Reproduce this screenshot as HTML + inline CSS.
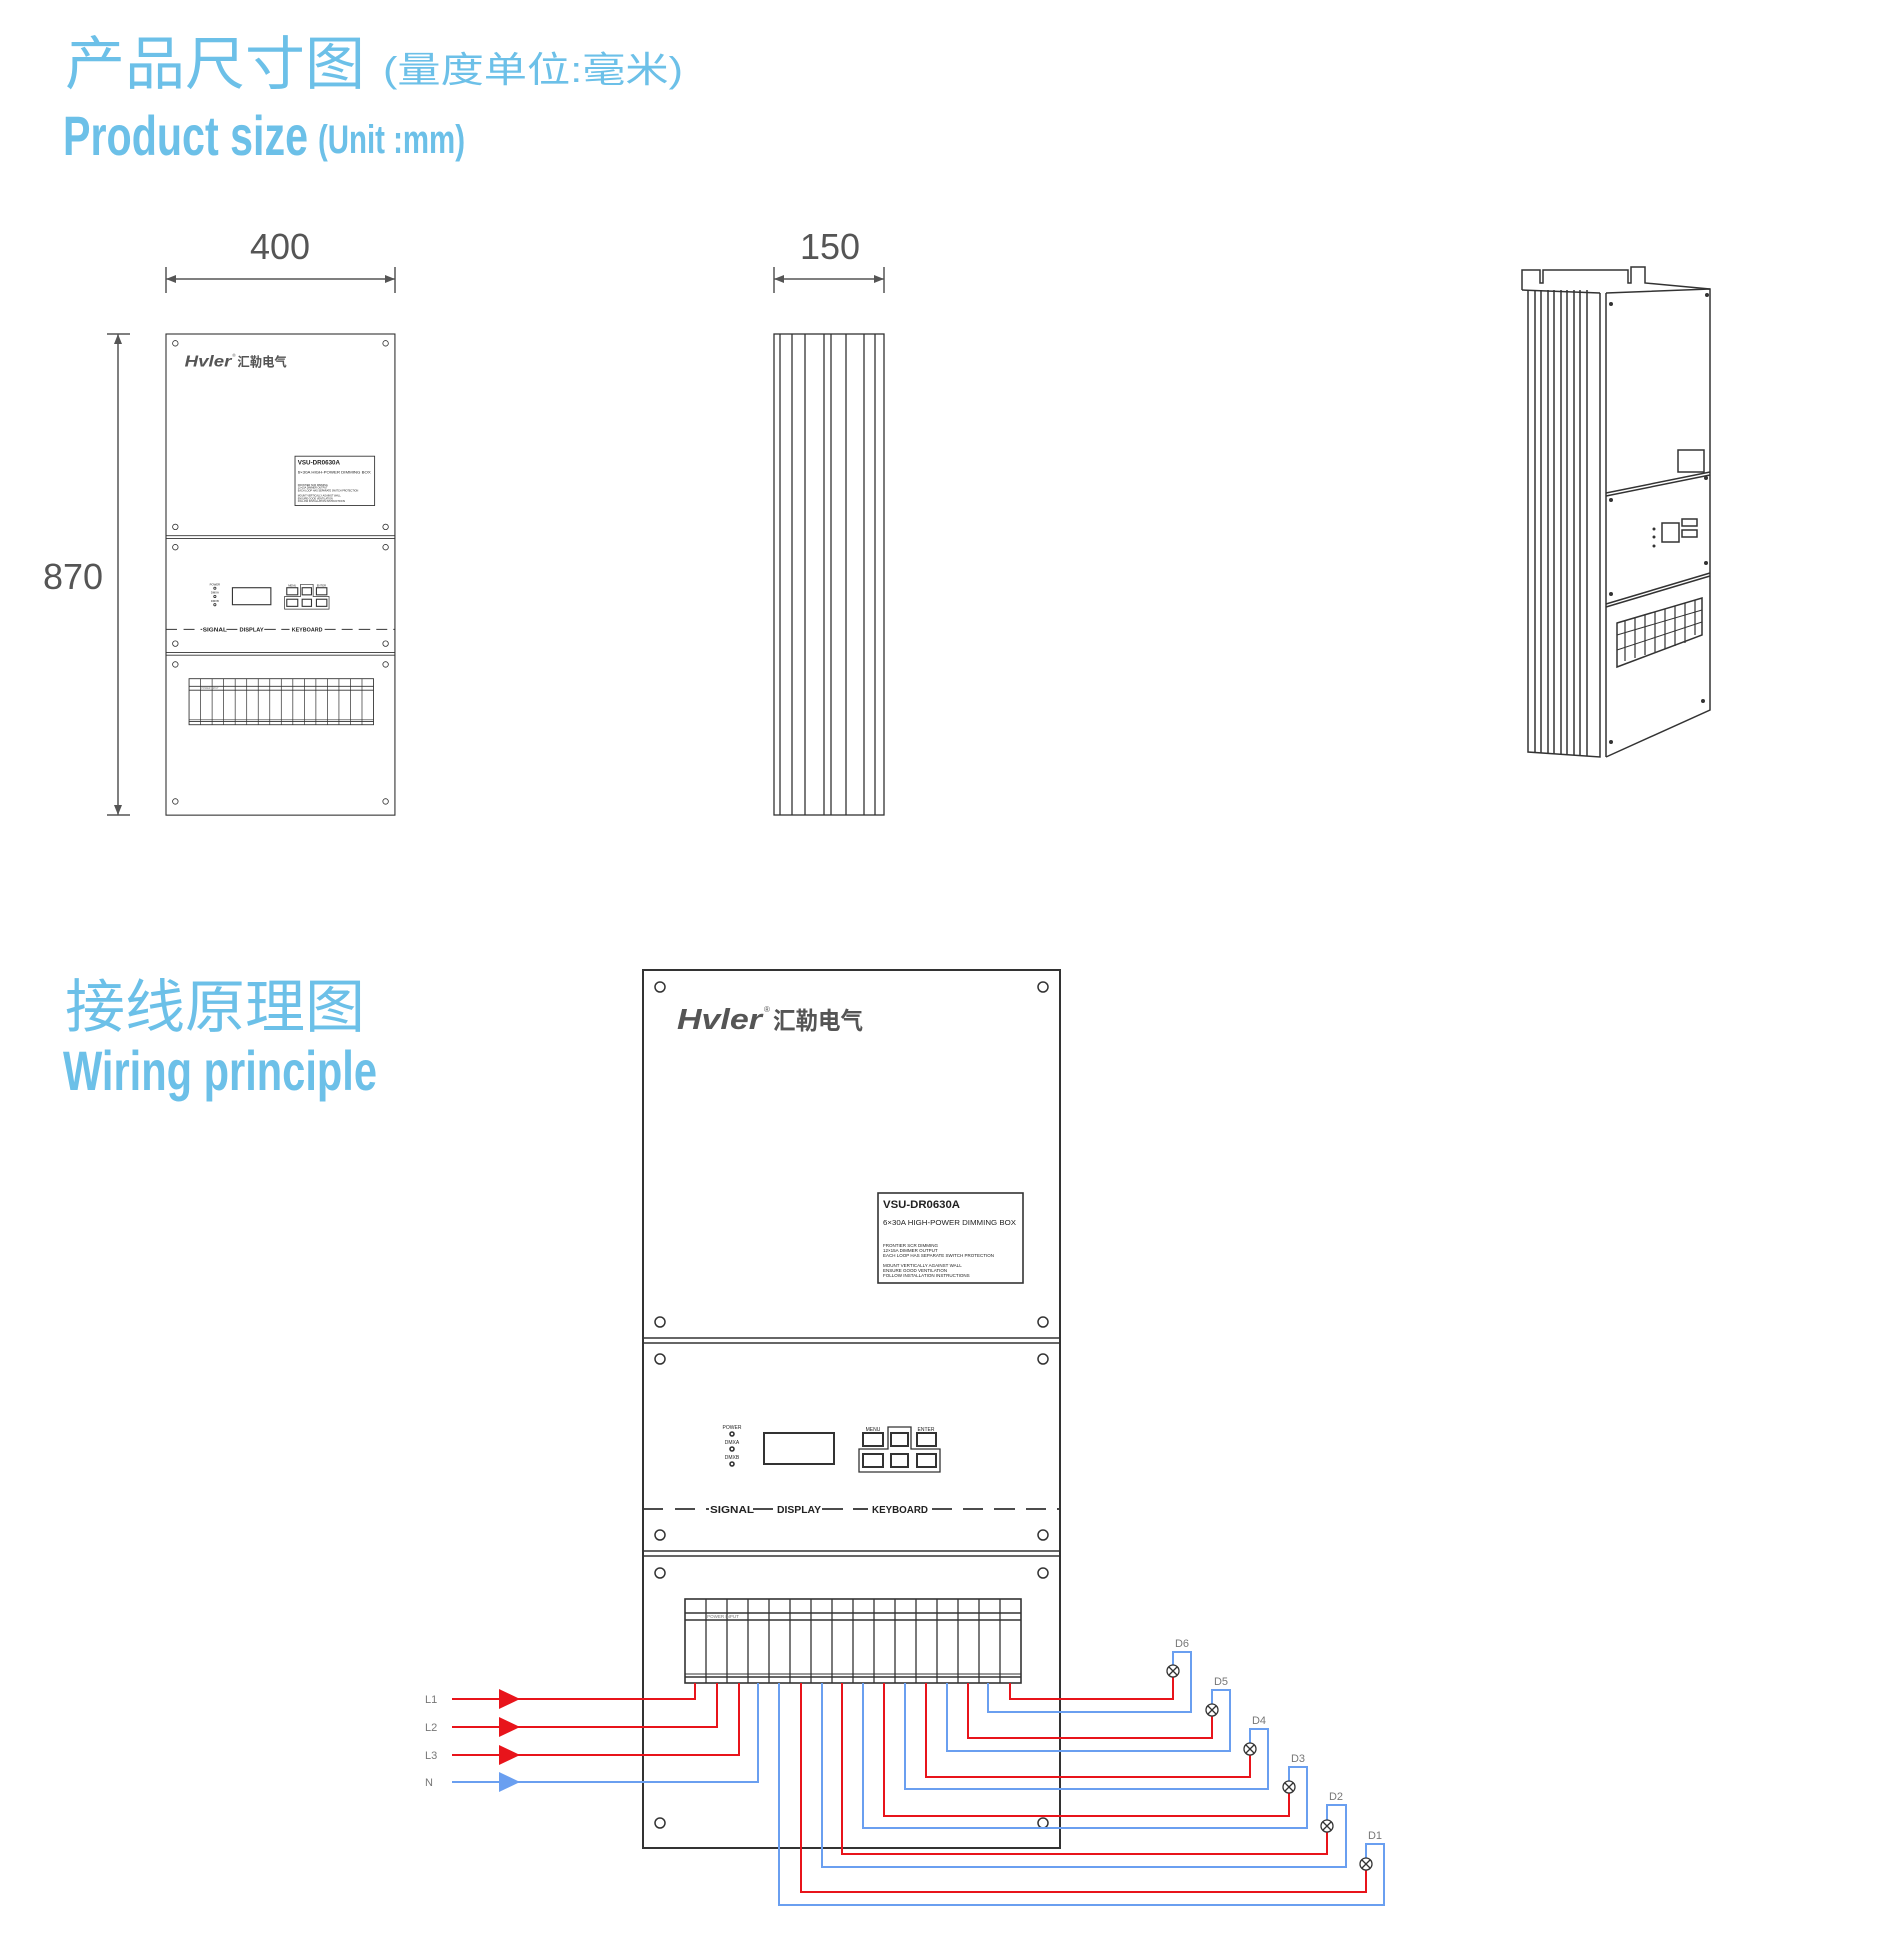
<!DOCTYPE html>
<html><head><meta charset="utf-8"><style>
html,body{margin:0;padding:0;background:#fff}
svg{display:block}
</style></head><body>
<svg width="1885" height="1959" viewBox="0 0 1885 1959" xmlns="http://www.w3.org/2000/svg" font-family="Liberation Sans, sans-serif">
<defs>
<g id="panel" fill="none" stroke="#333" stroke-width="1.6">
  <rect x="643" y="970" width="417" height="878" fill="#fff" stroke-width="2"/>
  <line x1="643" y1="1338" x2="1060" y2="1338"/><line x1="643" y1="1343" x2="1060" y2="1343"/>
  <line x1="643" y1="1551" x2="1060" y2="1551"/><line x1="643" y1="1556" x2="1060" y2="1556"/>
  <g stroke-width="1.5">
  <circle cx="660" cy="987" r="5"/><circle cx="1043" cy="987" r="5"/>
  <circle cx="660" cy="1322" r="5"/><circle cx="1043" cy="1322" r="5"/>
  <circle cx="660" cy="1359" r="5"/><circle cx="1043" cy="1359" r="5"/>
  <circle cx="660" cy="1535" r="5"/><circle cx="1043" cy="1535" r="5"/>
  <circle cx="660" cy="1573" r="5"/><circle cx="1043" cy="1573" r="5"/>
  <circle cx="660" cy="1823" r="5"/><circle cx="1043" cy="1823" r="5"/>
  </g>
  <text x="677" y="1029" font-size="29" font-weight="bold" font-style="italic" fill="#555" stroke="none" textLength="85" lengthAdjust="spacingAndGlyphs">Hvler</text>
  <text x="764" y="1012" font-size="8" fill="#555" stroke="none">®</text>
  <text x="773" y="1029" font-size="24" font-weight="bold" fill="#555" stroke="none" font-family="Liberation Sans, Noto Sans CJK SC, sans-serif" textLength="90" lengthAdjust="spacingAndGlyphs">汇勒电气</text>
  <rect x="878" y="1193" width="145" height="90" stroke-width="1.6"/>
  <g fill="#222" stroke="none">
  <text x="883" y="1208" font-size="11" font-weight="bold" textLength="77" lengthAdjust="spacingAndGlyphs">VSU-DR0630A</text>
  <text x="883" y="1225" font-size="7" textLength="133" lengthAdjust="spacingAndGlyphs">6×30A HIGH-POWER DIMMING BOX</text>
  <text x="883" y="1247" font-size="4.5">FRONTIER SCR DIMMING</text>
  <text x="883" y="1252" font-size="4.5">12×15A DIMMER OUTPUT</text>
  <text x="883" y="1257" font-size="4.5">EACH LOOP HAS SEPARATE SWITCH PROTECTION</text>
  <text x="883" y="1267" font-size="4.5">MOUNT VERTICALLY AGAINST WALL</text>
  <text x="883" y="1272" font-size="4.5">ENSURE GOOD VENTILATION</text>
  <text x="883" y="1277" font-size="4.5">FOLLOW INSTALLATION INSTRUCTIONS</text>
  <text x="732" y="1429" font-size="5" text-anchor="middle">POWER</text>
  <text x="732" y="1444" font-size="5" text-anchor="middle">DMXA</text>
  <text x="732" y="1459" font-size="5" text-anchor="middle">DMXB</text>
  <text x="873" y="1431" font-size="5" text-anchor="middle">MENU</text>
  <text x="926" y="1431" font-size="5" text-anchor="middle">ENTER</text>
  </g>
  <circle cx="732" cy="1434" r="2"/><circle cx="732" cy="1449" r="2"/><circle cx="732" cy="1464" r="2"/>
  <rect x="764" y="1433" width="70" height="31" stroke-width="2"/>
  <path d="M859 1449 V1472 H940 V1449 H911 V1427 H888 V1449 Z" stroke-width="1.3"/>
  <rect x="863" y="1433" width="20" height="13" stroke-width="2"/><rect x="891" y="1433" width="17" height="13" stroke-width="2"/><rect x="917" y="1433" width="19" height="13" stroke-width="2"/>
  <rect x="863" y="1454" width="20" height="13" stroke-width="2"/><rect x="891" y="1454" width="17" height="13" stroke-width="2"/><rect x="917" y="1454" width="19" height="13" stroke-width="2"/>
  <g stroke-width="1.8">
  <line x1="643" y1="1509" x2="663" y2="1509"/><line x1="675" y1="1509" x2="695" y2="1509"/>
  <line x1="706" y1="1509" x2="709" y2="1509"/><line x1="753" y1="1509" x2="773" y2="1509"/>
  <line x1="822" y1="1509" x2="843" y2="1509"/><line x1="853" y1="1509" x2="868" y2="1509"/>
  <line x1="932" y1="1509" x2="952" y2="1509"/><line x1="963" y1="1509" x2="983" y2="1509"/>
  <line x1="994" y1="1509" x2="1015" y2="1509"/><line x1="1026" y1="1509" x2="1046" y2="1509"/>
  <line x1="1057" y1="1509" x2="1060" y2="1509"/>
  </g>
  <g fill="#222" stroke="none" font-size="10.5" font-weight="bold" text-anchor="middle">
  <text x="732" y="1513" textLength="44" lengthAdjust="spacingAndGlyphs">SIGNAL</text>
  <text x="799" y="1513" textLength="44" lengthAdjust="spacingAndGlyphs">DISPLAY</text>
  <text x="900" y="1513" textLength="56" lengthAdjust="spacingAndGlyphs">KEYBOARD</text>
  </g>
  <rect x="685" y="1599" width="336" height="84" stroke-width="1.6"/>
  <line x1="685" y1="1613" x2="1021" y2="1613"/>
  <line x1="685" y1="1620" x2="1021" y2="1620"/>
  <line x1="685" y1="1674" x2="1021" y2="1674" stroke-width="1"/>
  <line x1="685" y1="1677" x2="1021" y2="1677" stroke-width="1.6"/>
  <g stroke-width="1.3">
  <line x1="706" y1="1599" x2="706" y2="1683"/><line x1="727" y1="1599" x2="727" y2="1683"/><line x1="748" y1="1599" x2="748" y2="1683"/><line x1="769" y1="1599" x2="769" y2="1683"/>
  <line x1="790" y1="1599" x2="790" y2="1683"/><line x1="811" y1="1599" x2="811" y2="1683"/><line x1="832" y1="1599" x2="832" y2="1683"/><line x1="853" y1="1599" x2="853" y2="1683"/>
  <line x1="874" y1="1599" x2="874" y2="1683"/><line x1="895" y1="1599" x2="895" y2="1683"/><line x1="916" y1="1599" x2="916" y2="1683"/><line x1="937" y1="1599" x2="937" y2="1683"/>
  <line x1="958" y1="1599" x2="958" y2="1683"/><line x1="979" y1="1599" x2="979" y2="1683"/><line x1="1000" y1="1599" x2="1000" y2="1683"/>
  </g>
  <text x="723" y="1618" font-size="4.5" fill="#777" stroke="none" text-anchor="middle">POWER INPUT</text>
</g>
</defs>

<!-- titles -->
<g fill="#6cc0e8" font-family="Liberation Sans, Noto Sans CJK SC, sans-serif">
<text x="65" y="84" font-size="58" textLength="300" lengthAdjust="spacingAndGlyphs">产品尺寸图</text>
<text x="383" y="82" font-size="36" textLength="300" lengthAdjust="spacingAndGlyphs">(量度单位:毫米)</text>
<text x="63" y="155" font-size="56" font-weight="bold" font-family="Liberation Sans Narrow, Liberation Sans, sans-serif" textLength="245" lengthAdjust="spacingAndGlyphs">Product size</text>
<text x="318" y="153" font-size="40" font-weight="bold" font-family="Liberation Sans Narrow, Liberation Sans, sans-serif" textLength="147" lengthAdjust="spacingAndGlyphs">(Unit :mm)</text>
<text x="65" y="1027" font-size="58" textLength="300" lengthAdjust="spacingAndGlyphs">接线原理图</text>
<text x="63" y="1090" font-size="56" font-weight="bold" font-family="Liberation Sans Narrow, Liberation Sans, sans-serif" textLength="314" lengthAdjust="spacingAndGlyphs">Wiring principle</text>
</g>

<!-- dimensions -->
<g stroke="#555" stroke-width="1.5" fill="#555">
<line x1="166" y1="267" x2="166" y2="293"/><line x1="395" y1="267" x2="395" y2="293"/>
<line x1="166" y1="279" x2="395" y2="279"/>
<path d="M166 279 l10 -4 v8z M395 279 l-10 -4 v8z" stroke="none"/>
<line x1="774" y1="267" x2="774" y2="293"/><line x1="884" y1="267" x2="884" y2="293"/>
<line x1="774" y1="279" x2="884" y2="279"/>
<path d="M774 279 l10 -4 v8z M884 279 l-10 -4 v8z" stroke="none"/>
<line x1="107" y1="334" x2="130" y2="334"/><line x1="107" y1="815" x2="130" y2="815"/>
<line x1="118" y1="334" x2="118" y2="815"/>
<path d="M118 334 l-4 10 h8z M118 815 l-4 -10 h8z" stroke="none"/>
</g>
<g fill="#555" font-size="36">
<text x="280" y="259" text-anchor="middle">400</text>
<text x="830" y="259" text-anchor="middle">150</text>
<text x="73" y="589" text-anchor="middle">870</text>
</g>

<!-- small front view -->
<use href="#panel" transform="translate(166,334) scale(0.549,0.548) translate(-643,-970)"/>

<!-- side view -->
<g stroke="#333" stroke-width="1.3" fill="none">
<rect x="774" y="334" width="110" height="481"/>
<line x1="780" y1="334" x2="780" y2="815"/><line x1="792" y1="334" x2="792" y2="815"/><line x1="805" y1="334" x2="805" y2="815"/>
<line x1="824" y1="334" x2="824" y2="815"/><line x1="831" y1="334" x2="831" y2="815"/><line x1="846" y1="334" x2="846" y2="815"/>
<line x1="864" y1="334" x2="864" y2="815"/><line x1="875" y1="334" x2="875" y2="815"/>
</g>

<!-- perspective view -->
<g stroke="#333" stroke-width="1.5" fill="none">
<path d="M1522 290 V270 H1540 V283 H1543 V270 H1628 V283 H1631 V267 H1645 V283 L1710 289"/>
<line x1="1522" y1="290" x2="1600" y2="293"/>
<path d="M1528 290 V752 L1600 757 V293"/>
<line x1="1535" y1="290" x2="1535" y2="752"/><line x1="1541" y1="290" x2="1541" y2="753"/>
<line x1="1548" y1="290" x2="1548" y2="753"/><line x1="1554" y1="290" x2="1554" y2="754"/>
<line x1="1561" y1="290" x2="1561" y2="754"/><line x1="1567" y1="290" x2="1567" y2="755"/>
<line x1="1574" y1="290" x2="1574" y2="755"/><line x1="1580" y1="290" x2="1580" y2="756"/>
<line x1="1587" y1="290" x2="1587" y2="756"/><line x1="1606" y1="293" x2="1606" y2="757"/>
<path d="M1606 293 L1710 289 V710 L1606 757"/>
<path d="M1606 493 L1710 472 M1606 496 L1710 475"/>
<path d="M1606 604 L1710 573 M1606 607 L1710 576"/>
<rect x="1678" y="450" width="26" height="22"/>
<rect x="1662" y="523" width="17" height="19"/>
<rect x="1682" y="519" width="15" height="7"/><rect x="1682" y="530" width="15" height="7"/>
<path d="M1617 623 L1702 598 V635 L1617 667 Z"/>
<path d="M1617 635 L1702 610 M1617 650 L1702 622" stroke-width="1"/>
<path d="M1625 621 v40 M1635 618 v40 M1645 615 v40 M1655 612 v40 M1665 609 v40 M1675 606 v40 M1685 603 v40 M1695 600 v35" stroke-width="1.2"/>
</g>
<g fill="#333">
<circle cx="1611" cy="304" r="2"/><circle cx="1707" cy="295" r="2"/><circle cx="1611" cy="500" r="2"/><circle cx="1706" cy="478" r="2"/>
<circle cx="1611" cy="594" r="2"/><circle cx="1706" cy="563" r="2"/><circle cx="1611" cy="742" r="2"/><circle cx="1703" cy="701" r="2"/>
<circle cx="1654" cy="529" r="1.5"/><circle cx="1654" cy="537" r="1.5"/><circle cx="1654" cy="546" r="1.5"/>
</g>

<!-- big wiring panel -->
<use href="#panel"/>

<!-- input wires -->
<g fill="none" stroke-width="2">
<path d="M452 1699 H695 V1683" stroke="#e8141b"/>
<path d="M452 1727 H717 V1683" stroke="#e8141b"/>
<path d="M452 1755 H739 V1683" stroke="#e8141b"/>
<path d="M452 1782 H758 V1683" stroke="#6a9ff0"/>
</g>
<g>
<path d="M499 1689 L520 1699 L499 1709Z" fill="#e8141b"/>
<path d="M499 1717 L520 1727 L499 1737Z" fill="#e8141b"/>
<path d="M499 1745 L520 1755 L499 1765Z" fill="#e8141b"/>
<path d="M499 1772 L520 1782 L499 1792Z" fill="#6a9ff0"/>
</g>
<g fill="#777" font-size="11">
<text x="425" y="1703">L1</text><text x="425" y="1731">L2</text><text x="425" y="1759">L3</text><text x="425" y="1786">N</text>
</g>

<!-- output wires -->
<g fill="none" stroke-width="2">
<path d="M1010 1683 V1699 H1173 V1677" stroke="#e8141b"/>
<path d="M988 1683 V1712 H1191 V1652 H1173 V1665" stroke="#6a9ff0"/>
<path d="M968 1683 V1738 H1212 V1716" stroke="#e8141b"/>
<path d="M947 1683 V1751 H1230 V1690 H1212 V1704" stroke="#6a9ff0"/>
<path d="M926 1683 V1777 H1250 V1755" stroke="#e8141b"/>
<path d="M905 1683 V1789 H1268 V1729 H1250 V1743" stroke="#6a9ff0"/>
<path d="M884 1683 V1816 H1289 V1793" stroke="#e8141b"/>
<path d="M863 1683 V1828 H1307 V1767 H1289 V1781" stroke="#6a9ff0"/>
<path d="M842 1683 V1854 H1327 V1832" stroke="#e8141b"/>
<path d="M822 1683 V1867 H1346 V1805 H1327 V1820" stroke="#6a9ff0"/>
<path d="M801 1683 V1892 H1366 V1870" stroke="#e8141b"/>
<path d="M779 1683 V1905 H1384 V1844 H1366 V1858" stroke="#6a9ff0"/>
</g>
<g fill="#fff" stroke="#333" stroke-width="1.3">
<g transform="translate(1173,1671)"><circle r="6"/><path d="M-4 -4 L4 4 M-4 4 L4 -4"/></g>
<g transform="translate(1212,1710)"><circle r="6"/><path d="M-4 -4 L4 4 M-4 4 L4 -4"/></g>
<g transform="translate(1250,1749)"><circle r="6"/><path d="M-4 -4 L4 4 M-4 4 L4 -4"/></g>
<g transform="translate(1289,1787)"><circle r="6"/><path d="M-4 -4 L4 4 M-4 4 L4 -4"/></g>
<g transform="translate(1327,1826)"><circle r="6"/><path d="M-4 -4 L4 4 M-4 4 L4 -4"/></g>
<g transform="translate(1366,1864)"><circle r="6"/><path d="M-4 -4 L4 4 M-4 4 L4 -4"/></g>
</g>
<g fill="#777" font-size="11" text-anchor="middle">
<text x="1182" y="1647">D6</text><text x="1221" y="1685">D5</text><text x="1259" y="1724">D4</text>
<text x="1298" y="1762">D3</text><text x="1336" y="1800">D2</text><text x="1375" y="1839">D1</text>
</g>
</svg>
</body></html>
